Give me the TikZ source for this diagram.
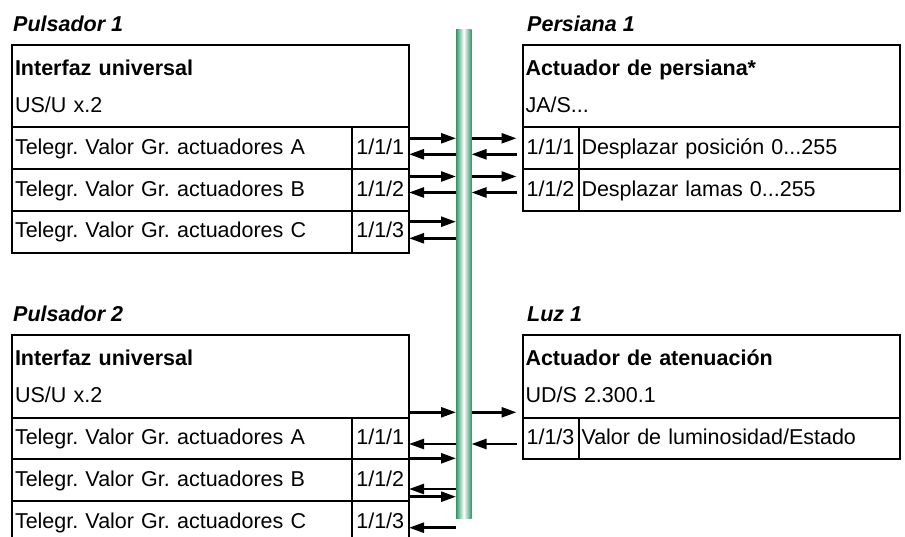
\documentclass[tikz,border=0pt]{standalone}
\usepackage{fontspec}
\setmainfont{Liberation Sans}
\frenchspacing
\usetikzlibrary{arrows.meta}
\definecolor{busgreen}{RGB}{46,150,104}

\tikzset{box/.style={draw,line width=2pt,anchor=north west,outer sep=0pt,inner ysep=0pt,inner xsep=3pt,
		font=\fontsize{21.5}{37.7}\selectfont
	},
	head/.style={box,align=left,text width=#1,minimum height=82.5pt},
	cell/.style={box,align=left,text width=#1,minimum height=41.7pt,text height=15.5pt,text depth=3pt},
	addr/.style={box,inner xsep=0pt,minimum width=#1,minimum height=41.7pt,text height=15.5pt,text depth=3pt}
}
\tikzstyle{device}=[anchor=base west,inner sep=0pt,font=\fontsize{21.5}{26}\selectfont\bfseries\itshape]
\tikzstyle{busbar}=[anchor=north west,inner sep=0pt,outer sep=0pt,minimum width=15.5pt,minimum height=488pt,
	left color=busgreen,right color=busgreen,middle color=white]

\begin{document}
\begin{tikzpicture}[x=1pt,y=-1pt]
			\useasboundingbox (0,0) rectangle (905,537);
			\clip (0,0) rectangle (905,537);
			\begin{scope}[>={Triangle[length=15pt,width=10pt]}] %filled arrow tips
				\node (bus)[busbar] at (456,30) {};
				% left: pushbuttons
				\foreach \nr/\top in {1/45, 2/335}{
					\node (P\nr)[device] at (13,{\top-13.5}) {Pulsador \nr};
					\node (US\nr)[head=391pt] at (12,\top) {\textbf{Interfaz universal}\\US/U x.2};
					\foreach \r/\c in {1/A, 2/B, 3/C}{
						\node (US\nr t\r)[cell=333.5pt] at (12,{\top+82.5+(\r-1)*41.7}) {Telegr. Valor Gr. actuadores \c};
						\node (US\nr a\r)[addr=57.5pt] at (US\nr t\r.north east) {1/1/\r};
					}
				}
				% right: actuators
				\node (JA)[device] at (527,31.5) {Persiana 1};
				\node (JA1)[head=371.5pt] at (522.5,45) {\textbf{Actuador de persiana*}\\JA/S...};
				\node (JA1a1)[addr=56pt] at (522.5,127.5) {1/1/1};
				\node (JA1t1)[cell=315.5pt] at (JA1a1.north east) {Desplazar posición 0...255};
				\node (JA1a2)[addr=56pt] at (522.5,169.2) {1/1/2};
				\node (JA1t2)[cell=315.5pt] at (JA1a2.north east) {Desplazar lamas 0...255};
				\node (L)[device] at (527,321.5) {Luz 1};
				\node (UD1)[head=371.5pt] at (522.5,335) {\textbf{Actuador de atenuación}\\UD/S 2.300.1};
				\node (UD1a1)[addr=56pt] at (522.5,417.5) {1/1/3};
				\node (UD1t1)[cell=315.5pt] at (UD1a1.north east) {Valor de luminosidad/Estado};
				% telegrams
				\foreach \y/\dir in {138.3/->, 154.3/<-, 176.5/->, 192.5/<-, 221.7/->, 238.3/<-,
					412.3/->, 444/<-, 458.3/->, 489/<-, 496.7/->, 527.7/<-}{
					\draw[\dir,line width=2.5pt] (US1.east |- 0,\y) -- (bus.west |- 0,\y);
				}
				\foreach \y/\dir in {138.3/->, 154.3/<-, 176.5/->, 192.5/<-, 412.3/->, 444/<-}{
					\draw[\dir,line width=2.5pt,shorten >=6pt] (bus.east |- 0,\y) -- (JA1.west |- 0,\y);
				}
			\end{scope}
		\end{tikzpicture}
\end{document}
